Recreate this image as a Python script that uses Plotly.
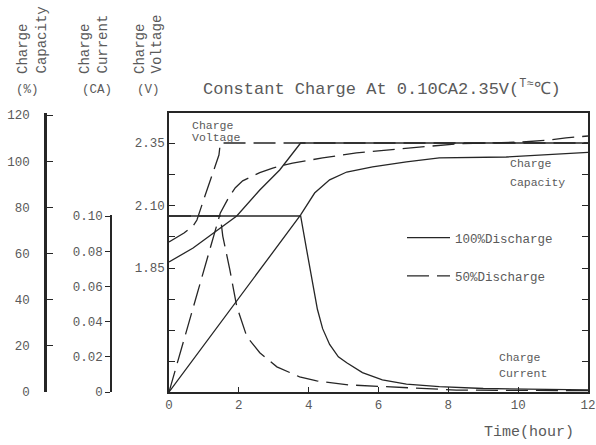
import plotly.graph_objects as go

# ---------------- data ----------------
# Charge voltage (V)
v100_t = [0, 0.69, 1.94, 2.6, 3.17, 3.77, 12]
v100 = [1.874, 1.93, 2.058, 2.162, 2.242, 2.35, 2.35]
v50_t = [0, 0.43, 0.69, 0.8, 1.0, 1.2, 1.43, 1.47, 12]
v50 = [1.954, 1.99, 2.018, 2.042, 2.126, 2.21, 2.302, 2.35, 2.35]

# Charge current (CA)
i100_t = [0, 3.77, 3.94, 4.11, 4.25, 4.4, 4.6, 4.85, 5.09, 5.54, 6.11, 6.8, 7.74, 9.0, 10.5, 12]
i100 = [0.1, 0.1, 0.081, 0.062, 0.047, 0.036, 0.027, 0.020, 0.0166, 0.011, 0.0069, 0.0045, 0.003, 0.002, 0.0015, 0.0012]
i50_t = [0, 1.47, 1.54, 1.74, 1.94, 2.23, 2.6, 3.09, 3.74, 4.23, 5.17, 6.23, 7.26, 8.23, 10, 12]
i50 = [0.1, 0.1, 0.0886, 0.0697, 0.0486, 0.0314, 0.0223, 0.0143, 0.0086, 0.0063, 0.004, 0.0029, 0.0017, 0.0011, 0.0009, 0.0008]

# Charge capacity (%)
c100_t = [0, 3.77, 4.17, 4.6, 5.09, 5.83, 6.8, 7.74, 9.66, 10.6, 11.83, 12]
c100 = [0, 76.7, 86.2, 91.9, 95.3, 97.5, 99.7, 101.4, 101.8, 102.7, 103.6, 103.8]
c50_t = [0, 1.47, 1.7, 1.9, 2.11, 2.6, 2.97, 3.54, 4.4, 5.37, 6.31, 7.26, 8.23, 9.17, 10.11, 10.89, 11.37, 12]
c50 = [0, 77.6, 84, 88.5, 91.5, 95, 97, 99.2, 101.4, 103.6, 104.9, 106.2, 107.5, 107.9, 108.3, 109.2, 110.1, 110.9]

# ticks
x_ticks = [0, 2, 4, 6, 8, 10, 12]
v_ticks = [1.85, 2.1, 2.35]
v_ticktext = ["1.85", "2.10", "2.35"]
v_minor_ticks = [1.475, 1.6, 1.725, 1.975, 2.225]
ca_ticks = [0, 0.02, 0.04, 0.06, 0.08, 0.10]
ca_ticktext = ["0", "0.02", "0.04", "0.06", "0.08", "0.10"]
pct_ticks = [0, 20, 40, 60, 80, 100, 120]

series_names = ["100%Discharge", "50%Discharge"]
title_text = "Constant Charge At 0.10CA2.35V(<sup>T≈</sup>℃)"

# ---------------- layout helpers ----------------
W, H = 596, 445
FONT = "Liberation Mono"
LINE = "#262626"
TXT = "#5a5a5a"


def px(x):
    return x / W


def py(y):
    return 1 - y / H


solid = dict(color=LINE, width=1.3)
dashed = dict(color=LINE, width=1.3, dash="22px,8px")

fig = go.Figure()
# voltage on main axis
fig.add_trace(go.Scatter(x=v100_t, y=v100, mode="lines", line=solid, name=series_names[0],
                         legendgroup="a", showlegend=True, xaxis="x", yaxis="y"))
fig.add_trace(go.Scatter(x=v50_t, y=v50, mode="lines", line=dashed, name=series_names[1],
                         legendgroup="b", showlegend=True, xaxis="x", yaxis="y"))
# current on CA axis
fig.add_trace(go.Scatter(x=i100_t, y=i100, mode="lines", line=solid, name=series_names[0],
                         legendgroup="a", showlegend=False, xaxis="x", yaxis="y2"))
fig.add_trace(go.Scatter(x=i50_t, y=i50, mode="lines", line=dashed, name=series_names[1],
                         legendgroup="b", showlegend=False, xaxis="x", yaxis="y2"))
# capacity on % axis
fig.add_trace(go.Scatter(x=c100_t, y=c100, mode="lines", line=solid, name=series_names[0],
                         legendgroup="a", showlegend=False, xaxis="x", yaxis="y3"))
fig.add_trace(go.Scatter(x=c50_t, y=c50, mode="lines", line=dashed, name=series_names[1],
                         legendgroup="b", showlegend=False, xaxis="x", yaxis="y3"))

main_dom = [py(392), py(113)]
tickfont = dict(family=FONT, size=12.5, color=TXT)

fig.update_layout(
    width=W, height=H,
    margin=dict(l=0, r=0, t=0, b=0),
    paper_bgcolor="white", plot_bgcolor="rgba(0,0,0,0)",
    font=dict(family=FONT, color=TXT),
    showlegend=True,
    legend=dict(x=px(402), y=py(223), xanchor="left", yanchor="top",
                font=dict(family=FONT, size=12.5, color=TXT),
                bgcolor="rgba(0,0,0,0)", itemwidth=43, traceorder="grouped",
                tracegroupgap=19),
    title=dict(text=title_text, x=px(203), xanchor="left", y=py(88), yanchor="middle",
               font=dict(family=FONT, size=17, color=TXT)),
    xaxis=dict(domain=[px(169), px(588)], range=[0, 12], tickvals=x_ticks,
               ticks="inside", ticklen=5, tickcolor=LINE, showline=True, linecolor=LINE,
               linewidth=1.5, mirror=True, showgrid=False, zeroline=False,
               tickfont=tickfont, anchor="y", automargin=False),
    yaxis=dict(domain=main_dom, range=[1.354, 2.47], tickvals=v_ticks, ticktext=v_ticktext,
               ticks="inside", ticklen=6, tickcolor=LINE, showline=True, linecolor=LINE,
               linewidth=1.5, mirror="ticks", showgrid=False, zeroline=False,
               minor=dict(tickvals=v_minor_ticks, ticks="inside", ticklen=6,
                          tickcolor=LINE, showgrid=False),
               tickfont=tickfont, anchor="x", automargin=False),
    yaxis2=dict(domain=[py(392), py(215)], range=[0, 0.10057], tickvals=ca_ticks,
                ticktext=ca_ticktext, anchor="free", position=px(111), side="left",
                ticks="outside", ticklen=5, tickcolor=LINE, showline=True, linecolor=LINE,
                linewidth=1.5, showgrid=False, zeroline=False, tickfont=tickfont,
                automargin=False),
    yaxis3=dict(overlaying="y", range=[0, 120.87], tickvals=pct_ticks, anchor="free",
                position=px(45), side="left", ticks="inside", ticklen=6, tickcolor=LINE,
                showline=True, linecolor=LINE, linewidth=2.6, showgrid=False,
                zeroline=False, tickfont=tickfont, ticklabelstandoff=12, automargin=False),
)

ann = []
# vertical header labels
header_words = ["Charge", "Capacity", "Charge", "Current", "Charge", "Voltage"]
header_x = [23, 41, 85, 102, 140, 156]
for w, x in zip(header_words, header_x):
    ann.append(dict(text=w, x=px(x), y=py(76), xref="paper", yref="paper", textangle=-90,
                    xanchor="center", yanchor="bottom", showarrow=False,
                    font=dict(family=FONT, size=14, color=TXT)))
unit_texts = ["(%)", "(CA)", "(V)"]
unit_x = [27, 97, 148]
for t, x in zip(unit_texts, unit_x):
    ann.append(dict(text=t, x=px(x), y=py(90), xref="paper", yref="paper",
                    xanchor="center", yanchor="middle", showarrow=False,
                    font=dict(family=FONT, size=12.5, color=TXT)))
# in-plot labels
labels = [("Charge", 190, 125), ("Voltage", 190, 137),
          ("Charge", 508, 164), ("Capacity", 508, 182),
          ("Charge", 497, 357), ("Current", 497, 373)]
for t, x, y in labels:
    ann.append(dict(text=t, x=px(x), y=py(y), xref="paper", yref="paper",
                    xanchor="left", yanchor="middle", showarrow=False,
                    font=dict(family=FONT, size=11.5, color=TXT)))
ann.append(dict(text="Time(hour)", x=px(482), y=py(432), xref="paper", yref="paper",
                xanchor="left", yanchor="middle", showarrow=False,
                font=dict(family=FONT, size=15, color=TXT)))
fig.update_layout(annotations=ann)

# remove the default page margin so the figure sits at the window's corner
fig.write_html("out.html", config={"displayModeBar": False},
               post_script="document.body.style.margin='0';")
